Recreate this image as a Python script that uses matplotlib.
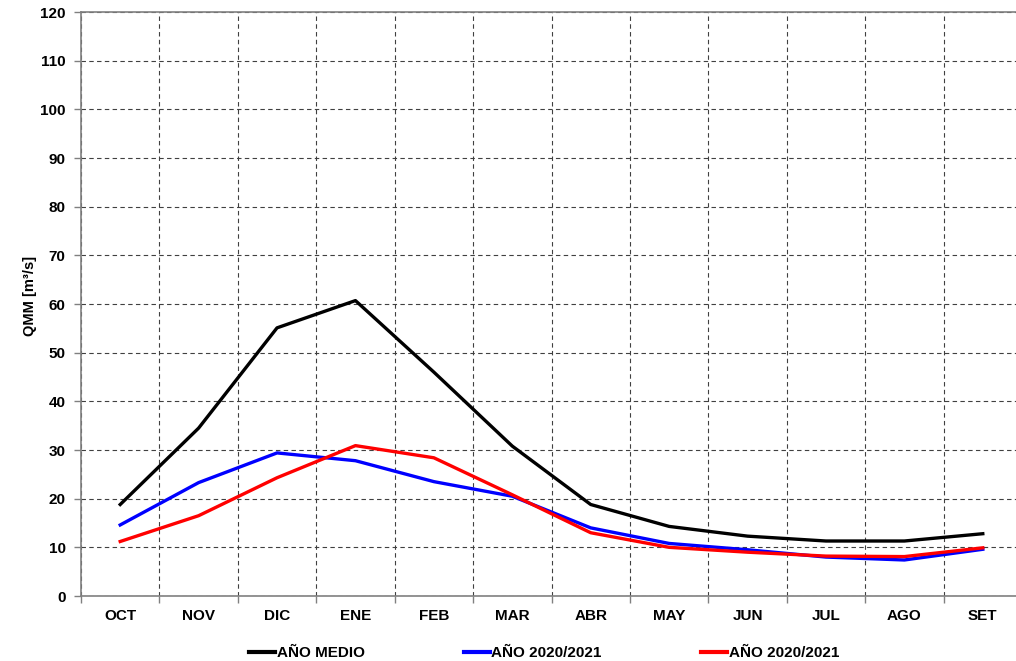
import matplotlib
matplotlib.use("Agg")
import matplotlib.pyplot as plt
from matplotlib.ticker import MultipleLocator, FixedLocator

months = ["OCT", "NOV", "DIC", "ENE", "FEB", "MAR", "ABR", "MAY", "JUN", "JUL", "AGO", "SET"]
ano_medio = [18.8, 34.5, 55.1, 60.7, 46.0, 30.8, 18.8, 14.3, 12.3, 11.3, 11.3, 12.8]
ano_2020_blue = [14.6, 23.3, 29.4, 27.8, 23.5, 20.5, 14.0, 10.8, 9.5, 8.0, 7.4, 9.6]
ano_2020_red = [11.2, 16.5, 24.3, 30.9, 28.4, 20.8, 13.0, 10.0, 9.0, 8.2, 8.1, 9.9]
series_labels = ["AÑO MEDIO", "AÑO 2020/2021", "AÑO 2020/2021"]

plt.rcParams['font.family'] = ['Liberation Sans', 'DejaVu Sans']
plt.rcParams['font.weight'] = 'bold'

fig = plt.figure(figsize=(10.16, 6.61), dpi=100)
ax = fig.add_axes([81/1016, 1-596/661, (1022-81)/1016, (596-12)/661])

x = list(range(len(months)))
ax.plot(x, ano_medio, color='black', lw=2.4, label=series_labels[0], solid_joinstyle='round')
ax.plot(x, ano_2020_blue, color='#0000ff', lw=2.4, label=series_labels[1], solid_joinstyle='round')
ax.plot(x, ano_2020_red, color='#ff0000', lw=2.4, label=series_labels[2], solid_joinstyle='round')

ax.set_xlim(-0.5, len(months)-0.5)
ax.set_ylim(0, 120)
ax.yaxis.set_major_locator(MultipleLocator(10))
ax.set_xticks(x)
ax.set_xticklabels(months, fontsize=11, fontweight='bold')
ax.xaxis.set_minor_locator(FixedLocator([i + 0.5 for i in range(-1, len(months))]))
ax.tick_params(axis='x', which='major', length=0, pad=9.5)
ax.tick_params(axis='x', which='minor', length=5, color='#808080', width=1)
ax.tick_params(axis='y', length=5, color='#808080', width=1, labelsize=11, pad=6)
for lbl in ax.get_yticklabels():
    lbl.set_fontweight('bold')

ax.grid(True, axis='y', which='major', linestyle=(0, (4, 3)), color='#404040', lw=0.8)
ax.grid(True, axis='x', which='minor', linestyle=(0, (4, 3)), color='#404040', lw=0.8)
for s in ax.spines.values():
    s.set_color('#808080')
    s.set_linewidth(1.2)
ax.set_axisbelow(True)

ax.set_ylabel("QMM [m³/s]", fontsize=10.5, fontweight='bold')
ax.yaxis.set_label_coords(-44/941, (596-296)/584)

leg = fig.legend(loc='center', bbox_to_anchor=(544/1016, 1-653/661), ncol=3,
                 frameon=False, handlelength=1.7, handletextpad=0.1,
                 columnspacing=6.5, prop={'size': 11, 'weight': 'bold'})
for h in leg.get_lines():
    h.set_linewidth(3)

fig.savefig("out.png", dpi=100)
